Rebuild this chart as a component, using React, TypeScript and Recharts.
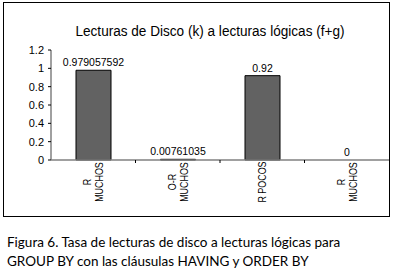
import React from 'react';
import { BarChart, Bar, XAxis, YAxis, LabelList, Rectangle } from 'recharts';

// Ratio of disk reads (k) to logical reads (f+g)
const categories = ['R\nMUCHOS', 'O-R\nMUCHOS', 'R POCOS', 'R\nMUCHOS'];
const ratios = [0.979057592, 0.00761035, 0.92, 0];
const ratioLabels = ['0.979057592', '0.00761035', '0.92', '0'];
const yTicks = [0, 0.2, 0.4, 0.6, 0.8, 1, 1.2];

const title = 'Lecturas de Disco (k) a lecturas lógicas (f+g)';
const captionLine1 = 'Figura 6. Tasa de lecturas de disco a lecturas lógicas para';
const captionLine2 = 'GROUP BY con las cláusulas HAVING y ORDER BY';

const CHART_W = 393;
const CHART_H = 217;
const MARGIN = { top: 50, right: 4, left: 0, bottom: 0 };
const Y_AXIS_W = 51;
const PLOT_W = CHART_W - MARGIN.left - MARGIN.right - Y_AXIS_W;
const BAND = PLOT_W / categories.length;
const FONT = "'Liberation Sans', Arial, sans-serif";

const data = categories.map((c, i) => ({ id: i, value: ratios[i] }));

function CategoryTick(props: any) {
  const { x, y, payload } = props;
  const idx = payload.value as number;
  const lines = categories[idx].split('\n');
  const lh = 12;
  return (
    <g>
      {idx < categories.length - 1 && (
        <line x1={x + BAND / 2} x2={x + BAND / 2} y1={y} y2={y + 3} stroke="#000" strokeWidth={1} />
      )}
      <g transform={`translate(${x},${y + 22}) rotate(-90) scale(0.85,1)`}>
        <text textAnchor="middle" fontSize={10.5} fontFamily={FONT} fill="#000">
          {lines.map((ln, i) => (
            <tspan key={i} x={0} y={(i - (lines.length - 1) / 2) * lh} dominantBaseline="central">
              {ln}
            </tspan>
          ))}
        </text>
      </g>
    </g>
  );
}

// zero-valued bars get no visible rectangle, only their label
function BarShape(props: any) {
  if (!props.value) return <g />;
  return <Rectangle {...props} />;
}

export default function App() {
  return (
    <div style={{ position: 'absolute', left: 0, top: 0, width: 393, height: 270, background: '#fff', overflow: 'hidden' }}>
      <div
        style={{
          position: 'absolute',
          left: 3,
          top: 2,
          width: 385,
          height: 213,
          border: '1.5px solid #000',
        }}
      />
      <div
        style={{
          position: 'absolute',
          left: 0,
          top: 23,
          width: 433,
          textAlign: 'center',
          fontFamily: FONT,
          fontSize: 14,
          transform: 'scaleX(0.97)',
          transformOrigin: '0 0',
          color: '#000',
          whiteSpace: 'nowrap',
        }}
      >
        {title}
      </div>
      <div style={{ position: 'absolute', left: 0, top: 0 }}>
        <BarChart width={CHART_W} height={CHART_H} data={data} margin={MARGIN}>
          <XAxis
            dataKey="id"
            type="category"
            height={CHART_H - 160}
            axisLine={{ stroke: '#808080', strokeWidth: 1.5 }}
            tickLine={false}
            tickSize={0}
            tickMargin={0}
            interval={0}
            tick={<CategoryTick />}
          />
          <YAxis
            width={Y_AXIS_W}
            domain={[0, 1.2]}
            ticks={yTicks}
            interval={0}
            axisLine={{ stroke: '#808080', strokeWidth: 1.5 }}
            tickLine={{ stroke: '#000' }}
            tickSize={3}
            tickMargin={4}
            tick={{ fontSize: 11, fill: '#000', fontFamily: FONT }}
          />
          <Bar
            dataKey="value"
            fill="#626262"
            stroke="#000"
            strokeWidth={1}
            barSize={35}
            minPointSize={0.01}
            shape={<BarShape />}
            isAnimationActive={false}
          >
            <LabelList
              dataKey="id"
              position="top"
              offset={4}
              formatter={(v: any) => ratioLabels[v as number]}
              style={{ fontSize: 10.5, fill: '#000', fontFamily: FONT }}
            />
          </Bar>
        </BarChart>
      </div>
      <div
        style={{
          position: 'absolute',
          left: 7,
          top: 233,
          fontFamily: "Lato, 'Noto Sans', sans-serif",
          fontSize: 13.5,
          lineHeight: '19px',
          color: '#000',
          whiteSpace: 'nowrap',
        }}
      >
        <div>{captionLine1}</div>
        <div>{captionLine2}</div>
      </div>
    </div>
  );
}
